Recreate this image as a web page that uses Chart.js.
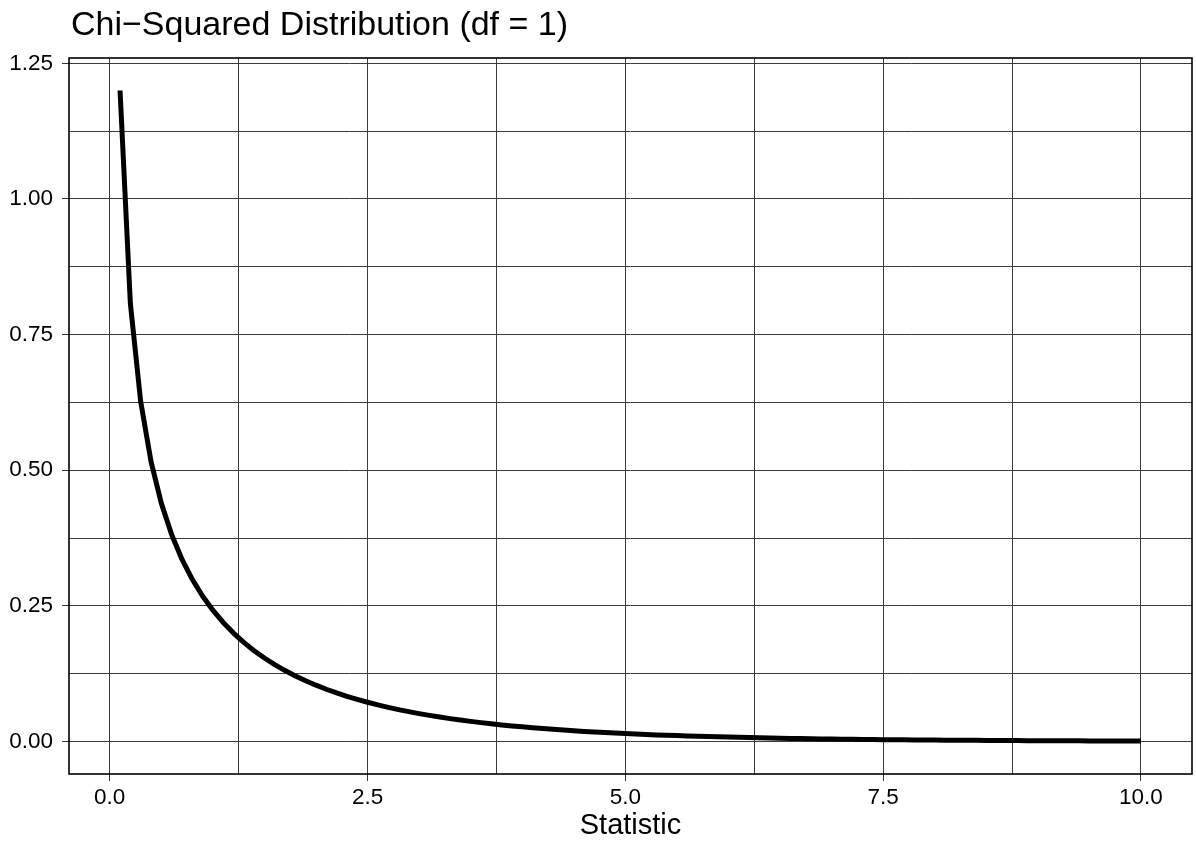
<!DOCTYPE html>
<html>
<head>
<meta charset="utf-8">
<script src="https://cdn.jsdelivr.net/npm/chart.js@4/dist/chart.umd.min.js"></script>
<style>
  html, body { margin: 0; padding: 0; background: #fff; }
  #wrap { width: 1196px; height: 843px; }
</style>
</head>
<body>
<div id="wrap"><canvas id="chart"></canvas></div>
<script>
// ---- Data ----
const statX = [
  0.1, 0.2, 0.3, 0.4, 0.5, 0.6, 0.7, 0.8, 0.9, 1.0,
  1.1, 1.2, 1.3, 1.4, 1.5, 1.6, 1.7, 1.8, 1.9, 2.0,
  2.1, 2.2, 2.3, 2.4, 2.5, 2.6, 2.7, 2.8, 2.9, 3.0,
  3.1, 3.2, 3.3, 3.4, 3.5, 3.6, 3.7, 3.8, 3.9, 4.0,
  4.1, 4.2, 4.3, 4.4, 4.5, 4.6, 4.7, 4.8, 4.9, 5.0,
  5.1, 5.2, 5.3, 5.4, 5.5, 5.6, 5.7, 5.8, 5.9, 6.0,
  6.1, 6.2, 6.3, 6.4, 6.5, 6.6, 6.7, 6.8, 6.9, 7.0,
  7.1, 7.2, 7.3, 7.4, 7.5, 7.6, 7.7, 7.8, 7.9, 8.0,
  8.1, 8.2, 8.3, 8.4, 8.5, 8.6, 8.7, 8.8, 8.9, 9.0,
  9.1, 9.2, 9.3, 9.4, 9.5, 9.6, 9.7, 9.8, 9.9, 10.0
];
const density = [
  1.2000, 0.8072, 0.6269, 0.5164, 0.4394, 0.3815, 0.3360, 0.2990, 0.2681, 0.2420,
  0.2195, 0.1999, 0.1827, 0.1674, 0.1539, 0.1417, 0.1308, 0.1209, 0.1119, 0.1038,
  0.0963, 0.0895, 0.0833, 0.0776, 0.0723, 0.0674, 0.0629, 0.0588, 0.0550, 0.0514,
  0.0481, 0.0450, 0.0422, 0.0395, 0.0371, 0.0348, 0.0326, 0.0306, 0.0287, 0.0270,
  0.0254, 0.0238, 0.0224, 0.0211, 0.0198, 0.0186, 0.0175, 0.0165, 0.0156, 0.0146,
  0.0138, 0.0130, 0.0122, 0.0115, 0.0109, 0.0103, 0.0097, 0.0091, 0.0086, 0.0081,
  0.0077, 0.0072, 0.0068, 0.0064, 0.0061, 0.0057, 0.0054, 0.0051, 0.0048, 0.0046,
  0.0043, 0.0041, 0.0038, 0.0036, 0.0034, 0.0032, 0.0031, 0.0029, 0.0027, 0.0026,
  0.0024, 0.0023, 0.0022, 0.0021, 0.0020, 0.0019, 0.0018, 0.0017, 0.0016, 0.0015,
  0.0014, 0.0013, 0.0013, 0.0012, 0.0011, 0.0011, 0.0010, 0.0010, 0.0009, 0.0009
];

// major ticks get labels, minor ones only get a grid line
const xMajor = [0, 2.5, 5, 7.5, 10];
const xMinor = [1.25, 3.75, 6.25, 8.75];
const yMajor = [0, 0.25, 0.5, 0.75, 1.0, 1.25];
const yMinor = [0.125, 0.375, 0.625, 0.875, 1.125];

const TITLE = "Chi\u2212Squared Distribution (df = 1)";
const FONT = "'Liberation Sans', Arial, sans-serif";

const isMajor = (list, v) => list.some((m) => Math.abs(m - v) < 1e-9);

function tickSet(major, minor) {
  return [...major, ...minor].sort((a, b) => a - b).map((v) => ({ value: v }));
}

// panel border + title drawn on top like ggplot
const panelPlugin = {
  id: "panel",
  afterDraw(chart) {
    const { ctx, chartArea: a } = chart;
    ctx.save();
    ctx.strokeStyle = "#000";
    ctx.lineWidth = 1.6;
    ctx.strokeRect(a.left, a.top, a.right - a.left, a.bottom - a.top);
    ctx.fillStyle = "#000";
    ctx.font = "34px " + FONT;
    ctx.textAlign = "left";
    ctx.textBaseline = "alphabetic";
    ctx.fillText(TITLE, a.left + 2, 35);
    ctx.restore();
  },
};

const points = statX.map((x, i) => ({ x, y: density[i] }));

new Chart(document.getElementById("chart"), {
  type: "scatter",
  data: {
    datasets: [{
      data: points,
      showLine: true,
      borderColor: "#000",
      borderWidth: 5,
      borderCapStyle: "butt",
      borderJoinStyle: "round",
      pointRadius: 0,
      tension: 0,
    }],
  },
  options: {
    responsive: true,
    maintainAspectRatio: false,
    animation: false,
    events: [],
    layout: { padding: { top: 58, right: 4, left: 0, bottom: 0 } },
    plugins: { legend: { display: false }, tooltip: { enabled: false } },
    scales: {
      x: {
        type: "linear",
        min: -0.395,
        max: 10.495,
        afterBuildTicks: (s) => { s.ticks = tickSet(xMajor, xMinor); },
        afterFit: (s) => { s.height = 69; },
        border: { display: false },
        grid: {
          color: "#3a3a3a",
          lineWidth: 1,
          tickLength: 7,
          tickColor: (c) => isMajor(xMajor, c.tick.value) ? "#333" : "rgba(0,0,0,0)",
        },
        ticks: {
          color: "#000",
          font: { family: FONT, size: 22.5 },
          padding: 3,
          maxRotation: 0,
          autoSkip: false,
          callback: (v) => isMajor(xMajor, v) ? v.toFixed(1) : "",
        },
        title: {
          display: true,
          text: "Statistic",
          color: "#000",
          font: { family: FONT, size: 29 },
          padding: { top: 0, bottom: 0 },
        },
      },
      y: {
        type: "linear",
        min: -0.0599,
        max: 1.2599,
        afterBuildTicks: (s) => { s.ticks = tickSet(yMajor, yMinor); },
        afterFit: (s) => { s.width = 69; },
        border: { display: false },
        grid: {
          color: "#3a3a3a",
          lineWidth: 1,
          tickLength: 7,
          tickColor: (c) => isMajor(yMajor, c.tick.value) ? "#333" : "rgba(0,0,0,0)",
        },
        ticks: {
          color: "#000",
          font: { family: FONT, size: 22.5 },
          padding: 9,
          autoSkip: false,
          callback: (v) => isMajor(yMajor, v) ? v.toFixed(2) : "",
        },
      },
    },
  },
  plugins: [panelPlugin],
});
</script>
</body>
</html>
